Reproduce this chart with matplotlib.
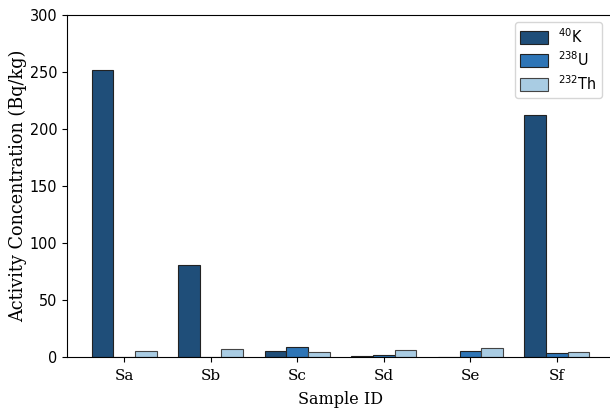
import matplotlib.pyplot as plt
import numpy as np

plt.rcParams['font.family'] = ['DejaVu Sans']
plt.rcParams['font.stretch'] = 'condensed'
plt.rcParams['mathtext.default'] = 'regular'

samples = ['Sa', 'Sb', 'Sc', 'Sd', 'Se', 'Sf']
k40 = [252, 81, 5, 1, 0, 212]
u238 = [0, 0, 8.5, 1.5, 5, 3.5]
th232 = [5, 7, 4.5, 6, 8, 4]

x = np.arange(len(samples))
w = 0.25

fig = plt.figure(figsize=(6.1, 4.12), dpi=100)
ax = fig.add_axes([67 / 610, 1 - 357 / 412, 547 / 610, 342 / 412])

ax.bar(x - w, k40, w, color='#1f4e79', edgecolor='#222222', linewidth=0.8, label=r'$^{40}$K')
ax.bar(x, u238, w, color='#2e75b6', edgecolor='#222222', linewidth=0.8, label=r'$^{238}$U')
ax.bar(x + w, th232, w, color='#a9cce3', edgecolor='#444444', linewidth=0.8, label=r'$^{232}$Th')

ax.set_xticks(x)
ax.set_xticklabels(samples, family='DejaVu Serif', stretch='normal', fontsize=11)
ax.set_ylim(0, 300)
ax.set_xlim(-0.66, 5.66)
ax.tick_params(axis='y', labelsize=11.5)
ax.tick_params(axis='x', pad=5)
ax.set_xlabel('Sample ID', family='DejaVu Serif', stretch='normal', fontsize=11.5, labelpad=6)
ax.set_ylabel('Activity Concentration (Bq/kg)', family='DejaVu Serif', stretch='normal',
              fontsize=12.7, labelpad=2)
ax.legend(loc='upper right', fontsize=11.5, bbox_to_anchor=(0.987, 0.995),
          handlelength=1.75, handleheight=0.9, handletextpad=0.6, borderpad=0.35,
          labelspacing=0.3, borderaxespad=0.3)

plt.savefig('out.png')
